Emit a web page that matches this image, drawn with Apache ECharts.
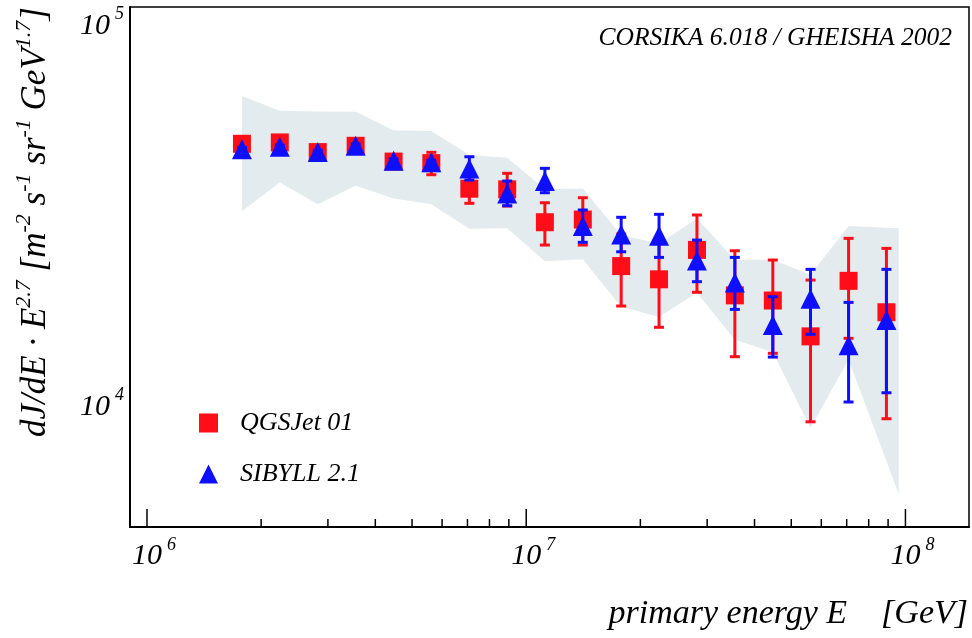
<!DOCTYPE html>
<html><head><meta charset="utf-8">
<script src="https://cdn.jsdelivr.net/npm/echarts@6/dist/echarts.min.js"></script>
<style>html,body{margin:0;padding:0;background:#fff}#c{width:972px;height:638px}</style>
</head><body><div id="c"></div>
<script>
// ---- data ----
const energy = [1.78e6, 2.24e6, 2.82e6, 3.55e6, 4.47e6, 5.62e6, 7.08e6, 8.91e6, 1.12e7, 1.41e7, 1.78e7, 2.24e7, 2.82e7, 3.55e7, 4.47e7, 5.62e7, 7.08e7, 8.91e7];
const qgsjet     = [49000, 49400, 46600, 48400, 44000, 43600, 37350, 37200, 30500, 31000, 23400, 21600, 25800, 19600, 19000, 15300, 21400, 17700];
const qgsjetLow  = [47800, 48200, 45400, 47200, 42800, 40640, 34190, 33630, 26570, 26570, 18380, 16160, 19970, 13530, 13810, 9130, 15120, 9300];
const qgsjetHigh = [50200, 50600, 47800, 49600, 45200, 46530, 40500, 40990, 34310, 35370, 28400, 27000, 31860, 25670, 24270, 21500, 27670, 26040];
const sibyll     = [47400, 48100, 46600, 48400, 44200, 43800, 42200, 36300, 39100, 29800, 28300, 28100, 24200, 21200, 16400, 19200, 14500, 16900];
const sibyllLow  = [46900, 47600, 46100, 47900, 43700, 43300, 39360, 33700, 36450, 27010, 25510, 24660, 21290, 18010, 13500, 15490, 10290, 10880];
const sibyllHigh = [47900, 48600, 47100, 48900, 44700, 44300, 45310, 39120, 42240, 32840, 31420, 31990, 27380, 24660, 19440, 22940, 18790, 22940];
const bandEnergy = [1.78e6, 2.24e6, 2.82e6, 3.55e6, 4.47e6, 5.62e6, 7.08e6, 8.91e6, 1.12e7, 1.41e7, 1.78e7, 2.24e7, 2.82e7, 3.55e7, 4.47e7, 5.62e7, 7.08e7, 9.6e7];
const bandHigh   = [65400, 59800, 59600, 59500, 53200, 52900, 45800, 45000, 37200, 37400, 28200, 26800, 31200, 24300, 24300, 22200, 29800, 29400];
const bandLow    = [32600, 38800, 34000, 38000, 35200, 34000, 29300, 29400, 24100, 24400, 18300, 17200, 19900, 15000, 13900, 8800, 13300, 5900];
const xMajorTicks = [1e6, 1e7, 1e8];
const xMinorTicks = [2e6, 3e6, 4e6, 5e6, 6e6, 7e6, 8e6, 9e6, 2e7, 3e7, 4e7, 5e7, 6e7, 7e7, 8e7, 9e7];
const yMajorTicks = [1e4, 1e5];
const yMinorTicks = [5e3, 6e3, 7e3, 8e3, 9e3, 2e4, 3e4, 4e4, 5e4, 6e4, 7e4, 8e4, 9e4];
const seriesNames = ['QGSJet 01', 'SIBYLL 2.1'];
const xRange = [9.02e5, 1.471e8];
const yRange = [4834, 1.12e5];

// ---- styling ----
const RED = '#ff0d18', BLUE = '#0f0fff', BAND = '#e4ebef';
const SERIF = '"Liberation Serif", "DejaVu Serif", serif';

const chart = echarts.init(document.getElementById('c'), null, {renderer: 'canvas'});

function isPow10(v) { const l = Math.log10(v); return Math.abs(l - Math.round(l)) < 1e-6; }

function errRender(color) {
  return function (params, api) {
    const x = api.value(0), lo = api.value(1), hi = api.value(2);
    const pLo = api.coord([x, lo]), pHi = api.coord([x, hi]);
    const cw = 5;
    const st = {stroke: color, lineWidth: 3};
    return {type: 'group', children: [
      {type: 'line', shape: {x1: pLo[0], y1: pLo[1], x2: pHi[0], y2: pHi[1]}, style: st},
      {type: 'line', shape: {x1: pLo[0] - cw, y1: pLo[1], x2: pLo[0] + cw, y2: pLo[1]}, style: st},
      {type: 'line', shape: {x1: pHi[0] - cw, y1: pHi[1], x2: pHi[0] + cw, y2: pHi[1]}, style: st}
    ]};
  };
}

function tickRender(axis, len) {
  return function (params, api) {
    const cs = params.coordSys;
    const v = api.value(0);
    if (axis === 'x') {
      const p = api.coord([v, yRange[0]]);
      const yb = cs.y + cs.height;
      return {type: 'line', shape: {x1: p[0], y1: yb, x2: p[0], y2: yb - len}, style: {stroke: '#000', lineWidth: 1.5}};
    } else {
      const p = api.coord([xRange[0], v]);
      return {type: 'line', shape: {x1: cs.x, y1: p[1], x2: cs.x + len, y2: p[1]}, style: {stroke: '#000', lineWidth: 1.5}};
    }
  };
}

const labelRich = {
  b: {fontFamily: SERIF, fontStyle: 'italic', fontSize: 30, lineHeight: 40, color: '#000'},
  s: {fontFamily: SERIF, fontStyle: 'italic', fontSize: 18, lineHeight: 18, verticalAlign: 'top', color: '#000', padding: [0, 0, 0, 5]}
};

const option = {
  animation: false,
  backgroundColor: '#fff',
  grid: {left: 130, top: 7, width: 839, height: 520, show: true, borderColor: '#000', borderWidth: 1.5, backgroundColor: 'transparent'},
  xAxis: {
    type: 'log', logBase: 10, min: xRange[0], max: xRange[1],
    axisLine: {show: true, lineStyle: {color: '#000', width: 2}},
    axisTick: {show: false}, splitLine: {show: false}, minorTick: {show: false},
    axisLabel: {
      margin: 9, showMinLabel: true, showMaxLabel: true, padding: [0, 0, 0, 14],
      fontFamily: SERIF, fontStyle: 'italic', fontSize: 30, color: '#000',
      formatter: v => isPow10(v) ? '{b|10}{s|' + Math.round(Math.log10(v)) + '}' : '',
      rich: labelRich
    }
  },
  yAxis: {
    type: 'log', logBase: 10, min: yRange[0], max: yRange[1],
    axisLine: {show: true, lineStyle: {color: '#000', width: 2}},
    axisTick: {show: false}, splitLine: {show: false}, minorTick: {show: false},
    axisLabel: {
      margin: 6,
      fontFamily: SERIF, fontStyle: 'italic', fontSize: 30, color: '#000',
      formatter: v => isPow10(v) ? '{b|10}{s|' + Math.round(Math.log10(v)) + '}' : '',
      rich: labelRich
    }
  },
  legend: {
    orient: 'vertical', left: 194, top: 405, itemWidth: 19, itemHeight: 19, itemGap: 25,
    data: [{name: seriesNames[0], icon: 'rect'}, {name: seriesNames[1], icon: 'triangle'}],
    textStyle: {fontFamily: SERIF, fontStyle: 'italic', fontSize: 26, color: '#000', padding: [0, 0, 0, 17]}
  },
  graphic: [
    {type: 'text', x: 952, y: 38, style: {text: 'CORSIKA 6.018 / GHEISHA 2002', fontFamily: SERIF, fontStyle: 'italic', fontSize: 25.5, fill: '#000', align: 'right', verticalAlign: 'middle'}},
    {type: 'text', x: 968, y: 614, style: {text: 'primary energy E    [GeV]', fontFamily: SERIF, fontStyle: 'italic', fontSize: 34, fill: '#000', align: 'right', verticalAlign: 'middle'}},
    {type: 'text', x: 36, y: 222, rotation: Math.PI / 2, style: {
      text: '{n|dJ/dE · E}{s|2.7}{n| [m}{s|-2}{n| s}{s|-1}{n| sr}{s|-1}{n| GeV}{s|1.7}{n|]}',
      align: 'center', verticalAlign: 'middle',
      rich: {
        n: {fontFamily: SERIF, fontStyle: 'italic', fontSize: 35, lineHeight: 46, fill: '#000', color: '#000'},
        s: {fontFamily: SERIF, fontStyle: 'italic', fontSize: 22, lineHeight: 22, verticalAlign: 'top', fill: '#000', color: '#000'}
      }
    }}
  ],
  series: [
    {type: 'custom', coordinateSystem: 'cartesian2d', z: 1, silent: true,
      data: bandEnergy.map((e, i) => [e, bandLow[i], bandHigh[i]]),
      encode: {x: 0, y: [1, 2]},
      renderItem: function (params, api) {
        if (params.dataIndex !== 0) return null;
        const pts = [];
        for (let i = 0; i < bandEnergy.length; i++) pts.push(api.coord([bandEnergy[i], bandHigh[i]]));
        for (let i = bandEnergy.length - 1; i >= 0; i--) pts.push(api.coord([bandEnergy[i], bandLow[i]]));
        return {type: 'polygon', shape: {points: pts}, style: {fill: BAND}};
      }
    },
    {type: 'custom', coordinateSystem: 'cartesian2d', z: 2, silent: true,
      data: energy.map((e, i) => [e, qgsjetLow[i], qgsjetHigh[i]]), encode: {x: 0, y: [1, 2]},
      renderItem: errRender(RED)},
    {type: 'scatter', name: seriesNames[0], z: 3, symbol: 'rect', symbolSize: 18,
      itemStyle: {color: RED, opacity: 1},
      data: energy.map((e, i) => [e, qgsjet[i]])},
    {type: 'custom', coordinateSystem: 'cartesian2d', z: 4, silent: true,
      data: energy.map((e, i) => [e, sibyllLow[i], sibyllHigh[i]]), encode: {x: 0, y: [1, 2]},
      renderItem: errRender(BLUE)},
    {type: 'scatter', name: seriesNames[1], z: 5, symbol: 'triangle', symbolSize: 20,
      itemStyle: {color: BLUE, opacity: 1},
      data: energy.map((e, i) => [e, sibyll[i]])},
    {type: 'custom', coordinateSystem: 'cartesian2d', z: 10, silent: true,
      data: xMajorTicks.map(v => [v, yRange[0]]), encode: {x: 0, y: 1}, renderItem: tickRender('x', 18)},
    {type: 'custom', coordinateSystem: 'cartesian2d', z: 10, silent: true,
      data: xMinorTicks.map(v => [v, yRange[0]]), encode: {x: 0, y: 1}, renderItem: tickRender('x', 8)},
    {type: 'custom', coordinateSystem: 'cartesian2d', z: 10, silent: true,
      data: yMajorTicks.map(v => [xRange[0], v]), encode: {x: 0, y: 1}, renderItem: tickRender('y', 23)},
    {type: 'custom', coordinateSystem: 'cartesian2d', z: 10, silent: true,
      data: yMinorTicks.map(v => [xRange[0], v]), encode: {x: 0, y: 1}, renderItem: tickRender('y', 12)}
  ]
};
chart.setOption(option);
</script>
</body></html>
